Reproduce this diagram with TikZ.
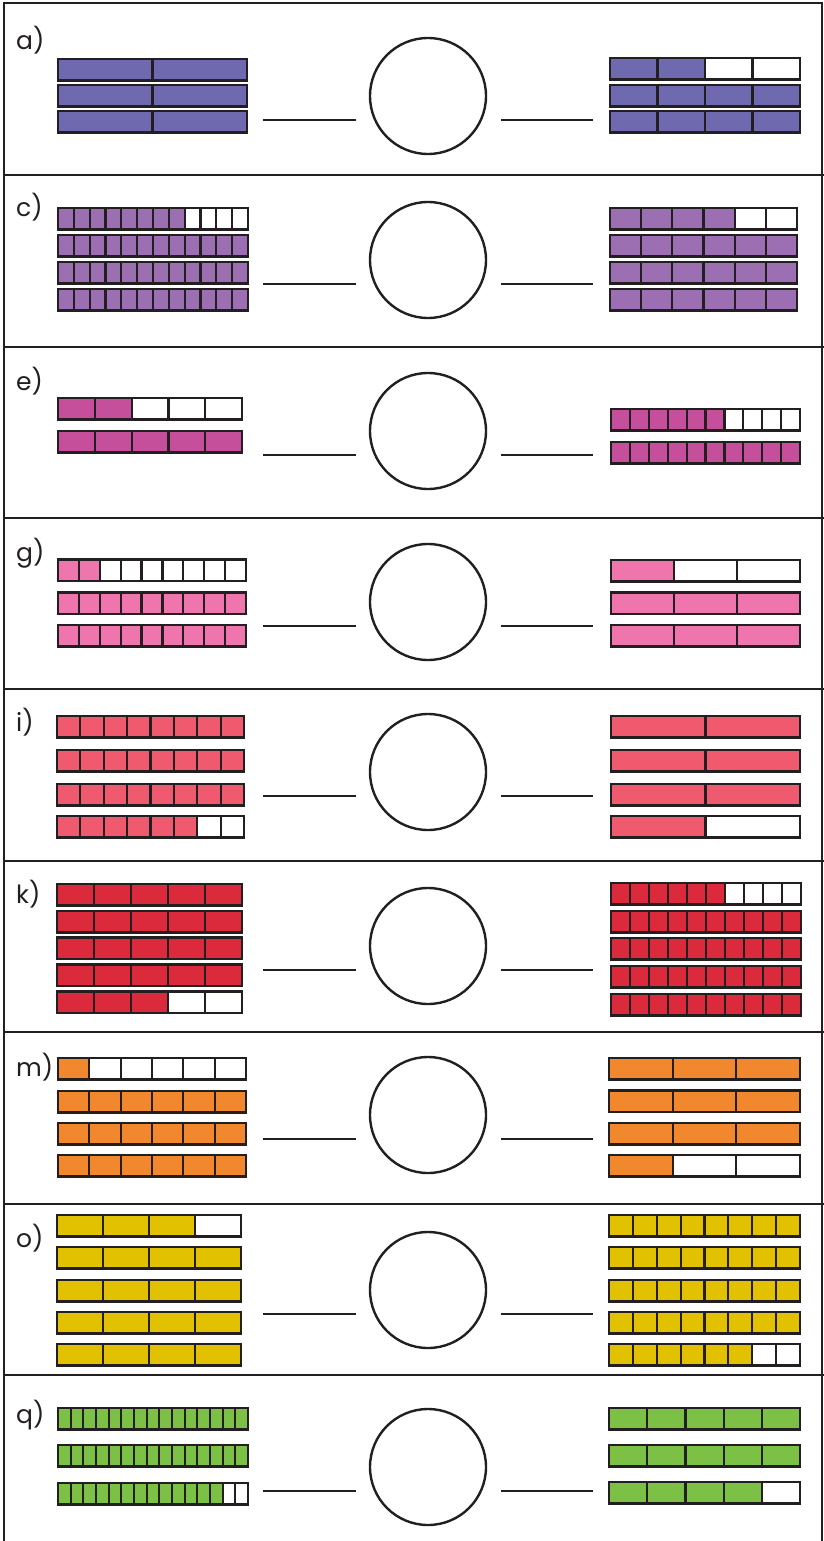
\documentclass[tikz,border=0pt]{standalone}
\usepackage{fontspec}
\setmainfont{Poppins}
\definecolor{ink}{HTML}{231F20}
\definecolor{cA}{HTML}{6F69AF}
\definecolor{cC}{HTML}{9B6FB1}
\definecolor{cE}{HTML}{C54F9B}
\definecolor{cG}{HTML}{EF76AC}
\definecolor{cI}{HTML}{EF5A6F}
\definecolor{cK}{HTML}{DC2A3D}
\definecolor{cM}{HTML}{F2882E}
\definecolor{cO}{HTML}{E2C200}
\definecolor{cQ}{HTML}{7CC145}
\tikzset{
  barline/.style={draw=ink, line width=2.6pt},
  barsep/.style={draw=ink, line width=2.2pt},
  ansline/.style={draw=ink, line width=2pt},
  ring/.style={circle, draw=ink, line width=2.4pt, minimum size=116pt, inner sep=0pt},
  qlabel/.style={anchor=base west, inner sep=0pt, font=\fontsize{25}{25}\selectfont, text=ink},
  framerule/.style={draw=ink, line width=2pt}
}
\def\barh{21.5}
% fraction bar: left, right, top, parts, shaded parts, colour
\newcommand\fbar[6]{%
  \pgfmathsetmacro\fbw{(#2-#1)/#4}%
  \fill[#6] (#1,#3) rectangle ({#1+#5*\fbw},{#3+\barh});
  \pgfmathtruncatemacro\fbm{#4-1}%
  \foreach \j in {1,...,\fbm} \draw[barsep] ({#1+\j*\fbw},#3) -- ({#1+\j*\fbw},{#3+\barh});
  \draw[barline] (#1,#3) rectangle (#2,{#3+\barh});
}
% label, circle and the two answer lines of one row
\newcommand\qrow[4]{% id, label, label baseline, circle centre y
  \node[qlabel] (lab#1) at (16,#3) {#2};
  \node[ring] (ring#1) at (428,#4) {};
  \coordinate (la#1) at (263,{#4+24});
  \coordinate (lb#1) at (356,{#4+24});
  \coordinate (ra#1) at (501,{#4+24});
  \coordinate (rb#1) at (593,{#4+24});
  \draw[ansline] (la#1) -- (lb#1);
  \draw[ansline] (ra#1) -- (rb#1);
}
\begin{document}
\begin{tikzpicture}[x=1pt,y=-1pt]
\useasboundingbox (0,0) rectangle (824,1541);
\fill[white] (0,0) rectangle (824,1541);
% frame and row dividers
\draw[framerule] (4,1541) -- (4,3) -- (822,3) -- (822,1541);
\foreach \yy in {175,347,518,689,861,1032,1204,1375}
  \draw[framerule] (4,\yy) -- (824,\yy);

% a)
\qrow{a}{a)}{50}{96}
\fbar{58}{247}{59}{2}{2}{cA}
\fbar{58}{247}{85}{2}{2}{cA}
\fbar{58}{247}{111}{2}{2}{cA}
\fbar{610}{800}{58}{4}{2}{cA}
\fbar{610}{800}{85}{4}{4}{cA}
\fbar{610}{800}{111}{4}{4}{cA}

% c)
\qrow{c}{c)}{216}{260}
\fbar{58}{248}{208}{12}{8}{cC}
\fbar{58}{248}{235}{12}{12}{cC}
\fbar{58}{248}{262}{12}{12}{cC}
\fbar{58}{248}{289}{12}{12}{cC}
\fbar{610}{797}{208}{6}{4}{cC}
\fbar{610}{797}{235}{6}{6}{cC}
\fbar{610}{797}{262}{6}{6}{cC}
\fbar{610}{797}{289}{6}{6}{cC}

% e)
\qrow{e}{e)}{390}{431}
\fbar{58}{242}{398}{5}{2}{cE}
\fbar{58}{242}{431}{5}{5}{cE}
\fbar{611}{800}{409}{10}{6}{cE}
\fbar{611}{800}{442}{10}{10}{cE}

% g)
\qrow{g}{g)}{561}{602}
\fbar{58}{246}{559.5}{9}{2}{cG}
\fbar{58}{246}{592.5}{9}{9}{cG}
\fbar{58}{246}{625}{9}{9}{cG}
\fbar{611}{800}{560}{3}{1}{cG}
\fbar{611}{800}{592.5}{3}{3}{cG}
\fbar{611}{800}{625}{3}{3}{cG}

% i)
\qrow{i}{i)}{731}{772}
\fbar{57}{244}{716}{8}{8}{cI}
\fbar{57}{244}{750}{8}{8}{cI}
\fbar{57}{244}{784}{8}{8}{cI}
\fbar{57}{244}{816}{8}{6}{cI}
\fbar{611}{800}{716}{2}{2}{cI}
\fbar{611}{800}{750}{2}{2}{cI}
\fbar{611}{800}{784}{2}{2}{cI}
\fbar{611}{800}{816}{2}{1}{cI}

% k)
\qrow{k}{k)}{903}{946}
\fbar{57}{242}{884}{5}{5}{cK}
\fbar{57}{242}{911}{5}{5}{cK}
\fbar{57}{242}{937.5}{5}{5}{cK}
\fbar{57}{242}{964.5}{5}{5}{cK}
\fbar{57}{242}{991.5}{5}{3}{cK}
\fbar{611}{801}{883}{10}{6}{cK}
\fbar{611}{801}{911}{10}{10}{cK}
\fbar{611}{801}{938}{10}{10}{cK}
\fbar{611}{801}{966}{10}{10}{cK}
\fbar{611}{801}{994}{10}{10}{cK}

% m)
\qrow{m}{m)}{1076}{1115}
\fbar{58}{246}{1058}{6}{1}{cM}
\fbar{58}{246}{1091}{6}{6}{cM}
\fbar{58}{246}{1123}{6}{6}{cM}
\fbar{58}{246}{1155}{6}{6}{cM}
\fbar{609}{800}{1058}{3}{3}{cM}
\fbar{609}{800}{1090.5}{3}{3}{cM}
\fbar{609}{800}{1123}{3}{3}{cM}
\fbar{609}{800}{1155}{3}{1}{cM}

% o)
\qrow{o}{o)}{1247}{1290}
\fbar{57}{241}{1215}{4}{3}{cO}
\fbar{57}{241}{1247}{4}{4}{cO}
\fbar{57}{241}{1280}{4}{4}{cO}
\fbar{57}{241}{1312}{4}{4}{cO}
\fbar{57}{241}{1344}{4}{4}{cO}
\fbar{609}{800}{1215}{8}{8}{cO}
\fbar{609}{800}{1247}{8}{8}{cO}
\fbar{609}{800}{1280}{8}{8}{cO}
\fbar{609}{800}{1312}{8}{8}{cO}
\fbar{609}{800}{1344}{8}{6}{cO}

% q)
\qrow{q}{q)}{1423}{1467}
\fbar{58}{248}{1408}{15}{15}{cQ}
\fbar{58}{248}{1445}{15}{15}{cQ}
\fbar{58}{248}{1483}{15}{13}{cQ}
\fbar{609}{800}{1408}{5}{5}{cQ}
\fbar{609}{800}{1445}{5}{5}{cQ}
\fbar{609}{800}{1482}{5}{4}{cQ}
\end{tikzpicture}
\end{document}
